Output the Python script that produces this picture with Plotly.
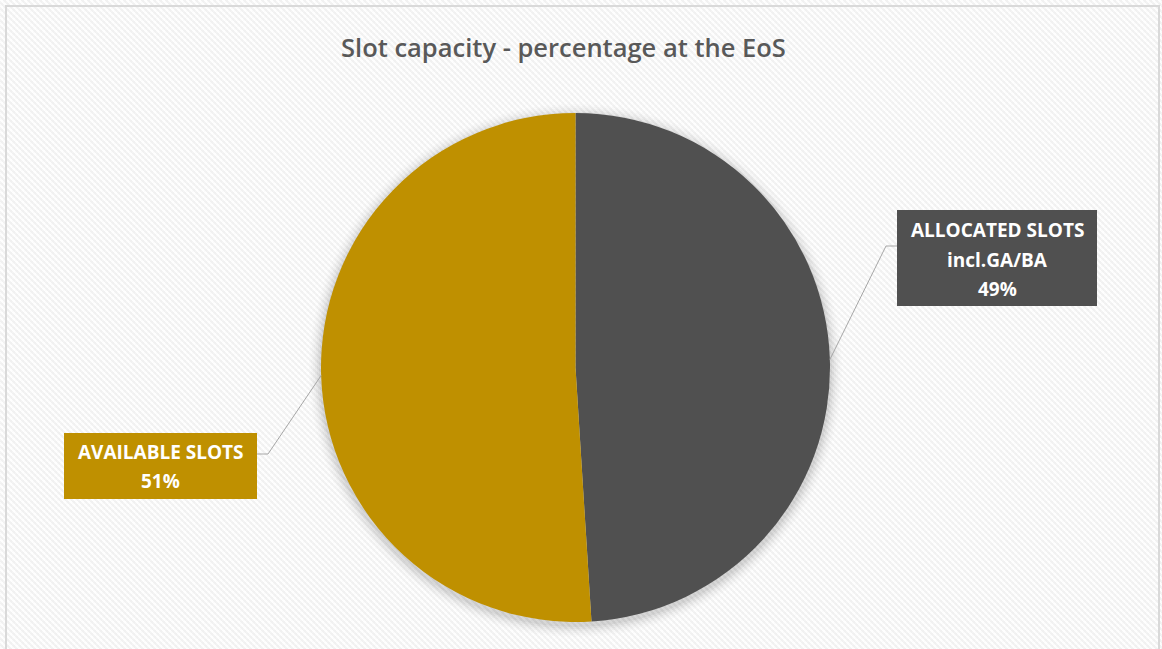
import base64
import math
import struct
import zlib

import numpy as np
import plotly.graph_objects as go

# ---- data -------------------------------------------------------------
labels = ["ALLOCATED SLOTS incl.GA/BA", "AVAILABLE SLOTS"]
label_lines = [["ALLOCATED SLOTS", "incl.GA/BA"], ["AVAILABLE SLOTS"]]
values = [49, 51]
colors = ["#505050", "#BF9000"]
title_text = "Slot capacity - percentage at the EoS"

# ---- canvas / geometry (pixels) ----------------------------------------
W, H = 1162, 649
CX, CY, R = 575.5, 367.5, 254.5

FONT = "Open Sans"


def px(x):
    return x / W


def py(y):
    return 1 - y / H


def carbon_texture(w, h):
    """Subtle diagonal carbon-like background as a PNG data URI."""
    yy, xx = np.mgrid[0:h, 0:w]
    band = ((xx - yy) // 3) % 2
    chk = ((xx // 3 + yy // 3) % 2)
    img = np.where(band == 0, 252, 242).astype(np.int16)
    img = img + np.where(chk == 0, 2, -1)
    img = np.clip(img, 0, 255).astype(np.uint8)
    raw = b"".join(b"\x00" + img[r].tobytes() for r in range(h))

    def chunk(tag, data):
        c = struct.pack(">I", len(data)) + tag + data
        return c + struct.pack(">I", zlib.crc32(tag + data) & 0xFFFFFFFF)

    png = b"\x89PNG\r\n\x1a\n"
    png += chunk(b"IHDR", struct.pack(">IIBBBBB", w, h, 8, 0, 0, 0, 0))
    png += chunk(b"IDAT", zlib.compress(raw, 9))
    png += chunk(b"IEND", b"")
    return "data:image/png;base64," + base64.b64encode(png).decode()


total = sum(values)
pcts = [round(v / total * 100) for v in values]

fig = go.Figure(
    go.Pie(
        labels=labels,
        values=values,
        sort=False,
        direction="clockwise",
        rotation=0,
        marker=dict(colors=colors, line=dict(width=0)),
        textinfo="none",
        hoverinfo="label+percent",
        showlegend=False,
        domain=dict(x=[px(CX - R), px(CX + R)], y=[py(CY + R), py(CY - R)]),
    )
)

shapes = []

# soft shadow behind the pie
for i, a in enumerate([0.04, 0.035, 0.028, 0.02, 0.014, 0.01]):
    rr = R + 2 + i * 2
    shapes.append(dict(
        type="circle", xref="paper", yref="paper", layer="below",
        x0=px(CX - rr), x1=px(CX + rr), y0=py(CY + 3 + rr), y1=py(CY + 3 - rr),
        fillcolor=f"rgba(0,0,0,{a})", line=dict(width=0),
    ))

# label boxes: (left, top, right, bottom), elbow point, box anchor for leader
boxes = [
    dict(rect=(897, 210, 1097, 306), elbow=(886, 246), anchor=(897, 246),
         line_y=[229.5, 259.5, 288.5]),
    dict(rect=(64, 433, 257, 499), elbow=(268, 454), anchor=(257, 454),
         line_y=[452, 481]),
]

annotations = []
cum = 0
for i, v in enumerate(values):
    mid = (cum + v / 2) / total * 2 * math.pi
    cum += v
    ex = CX + R * math.sin(mid)
    ey = CY - R * math.cos(mid)
    b = boxes[i]
    bx, by = b["elbow"]
    ax, ay = b["anchor"]
    # leader line from slice edge to label box
    shapes.append(dict(
        type="path", xref="paper", yref="paper",
        path=f"M {px(ex)},{py(ey)} L {px(bx)},{py(by)} L {px(ax)},{py(ay)}",
        line=dict(color="#a6a6a6", width=1),
    ))
    x0, y0, x1, y1 = b["rect"]
    shapes.append(dict(
        type="rect", xref="paper", yref="paper",
        x0=px(x0), x1=px(x1), y0=py(y1), y1=py(y0),
        fillcolor=colors[i], line=dict(width=0),
    ))
    lines = label_lines[i] + [f"{pcts[i]}%"]
    for txt, ly in zip(lines, b["line_y"]):
        annotations.append(dict(
            text=f"<b>{txt}</b>", xref="paper", yref="paper",
            x=px((x0 + x1) / 2), y=py(ly), xanchor="center", yanchor="middle",
            showarrow=False, font=dict(family=FONT, size=19, color="white"),
        ))

# outer chart border
shapes.append(dict(
    type="path", xref="paper", yref="paper",
    path=f"M {px(6)},0 L {px(6)},{py(6)} L {px(1159)},{py(6)} L {px(1159)},0",
    line=dict(color="#d9d9d9", width=2),
))

annotations.append(dict(
    text=title_text, xref="paper", yref="paper",
    x=px(563), y=py(47), xanchor="center", yanchor="middle", showarrow=False,
    font=dict(family=FONT, size=25.5, color="#595959", weight=600),
))

fig.update_layout(
    width=W, height=H,
    margin=dict(l=0, r=0, t=0, b=0),
    paper_bgcolor="#fafafa",
    plot_bgcolor="#fafafa",
    shapes=shapes,
    annotations=annotations,
    images=[dict(
        source=carbon_texture(W, H), xref="paper", yref="paper",
        x=0, y=1, sizex=1, sizey=1, xanchor="left", yanchor="top",
        sizing="stretch", layer="below",
    )],
)

fig.write_html("out.html")
